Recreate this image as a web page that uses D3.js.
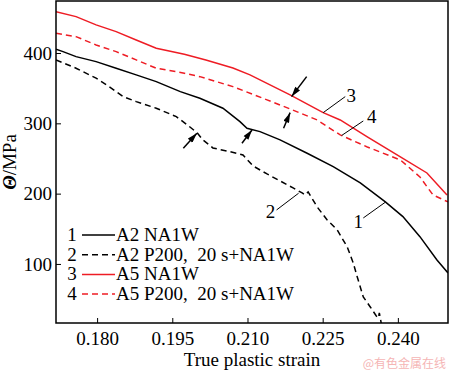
<!DOCTYPE html>
<html>
<head>
<meta charset="utf-8">
<script src="https://cdn.jsdelivr.net/npm/d3@7"></script>
<style>
  body { margin: 0; background: #fff; }
  svg { display: block; font-family: "Liberation Serif", "Times New Roman", serif; }
</style>
</head>
<body>
<svg id="chart" width="450" height="373"></svg>
<script>
// strain values / Theta (MPa)
var strainA2 = [0.1718, 0.1732, 0.1758, 0.1798, 0.1838, 0.1878, 0.1918, 0.1966, 0.2005, 0.2051, 0.2085, 0.2099, 0.2125, 0.2165, 0.2219, 0.2271, 0.2325, 0.2375, 0.2410, 0.2444, 0.2478, 0.2500];
var thetaA2 = [405.4, 402.0, 394.9, 387.8, 378.4, 368.9, 359.3, 345.1, 335.7, 321.5, 302.4, 293.0, 288.2, 276.4, 257.5, 238.4, 215.2, 188.2, 167.3, 138.8, 105.7, 87.2];

var strainA2P = [0.1718, 0.1758, 0.1798, 0.1824, 0.1852, 0.1878, 0.1918, 0.1958, 0.1980, 0.2000, 0.2011, 0.2031, 0.2065, 0.2091, 0.2111, 0.2139, 0.2165, 0.2191, 0.2209, 0.2215, 0.2221, 0.2239, 0.2259, 0.2279, 0.2299, 0.2311, 0.2319, 0.2331, 0.2345, 0.2357, 0.2361, 0.2363, 0.2365, 0.2367];
var thetaA2P = [390.2, 378.4, 364.2, 352.2, 338.0, 330.9, 321.5, 309.5, 297.7, 286.3, 276.4, 265.0, 259.7, 255.1, 239.4, 228.0, 218.1, 208.1, 201.0, 198.2, 202.4, 181.1, 162.6, 148.4, 124.2, 101.4, 81.5, 53.1, 38.8, 26.0, 23.2, 30.3, 23.2, 14.7];

var strainA5 = [0.1718, 0.1758, 0.1798, 0.1838, 0.1878, 0.1918, 0.1974, 0.2017, 0.2071, 0.2105, 0.2185, 0.2251, 0.2285, 0.2339, 0.2405, 0.2458, 0.2498];
var thetaA5 = [458.9, 451.8, 440.0, 430.4, 418.6, 406.8, 398.3, 390.2, 378.8, 368.9, 340.4, 315.2, 304.8, 280.7, 252.2, 229.4, 198.2];

var strainA5P = [0.1718, 0.1758, 0.1798, 0.1838, 0.1878, 0.1918, 0.1974, 0.2005, 0.2071, 0.2139, 0.2185, 0.2239, 0.2285, 0.2339, 0.2405, 0.2444, 0.2470, 0.2500];
var thetaA5P = [428.2, 423.3, 411.5, 402.0, 390.2, 378.4, 371.3, 366.4, 352.2, 333.4, 320.5, 304.8, 283.5, 266.4, 247.9, 223.8, 198.2, 188.2];

var seriesNums = ["1", "2", "3", "4"];
var seriesNames = ["A2 NA1W", "A2 P200,\u00a0 20 s+NA1W", "A5 NA1W", "A5 P200,\u00a0 20 s+NA1W"];
var seriesColors = ["#000", "#000", "#ee1c24", "#ee1c24"];
var seriesDash = [null, "6,4", null, "6,4"];

var xTicks = [0.180, 0.195, 0.210, 0.225, 0.240];
var yTicks = [100, 200, 300, 400];

// arrows: [tailX, tailY, headX, headY] in data units
var arrows = [
  [0.2218, 366.4, 0.2188, 338.0],
  [0.2172, 293.0, 0.2185, 315.2],
  [0.2089, 271.7, 0.2109, 290.6],
  [0.1972, 264.6, 0.1999, 285.9]
];
// curve labels: leader line [x0, y0, x1, y1] and text position
var leaders = [
  [0.2331, 165.4, 0.2375, 187.8],
  [0.2158, 176.8, 0.2202, 200.6],
  [0.2251, 315.2, 0.2295, 338.0],
  [0.2288, 282.8, 0.2331, 303.4]
];
var leaderTextX = [0.2321, 0.2146, 0.2307, 0.2348];
var leaderTextY = [151.2, 165.0, 330.9, 300.1];

function drawChart() {
    var svg = d3.select("#chart"),
        margin = {top: 1, right: 2, bottom: 50, left: 56},
        width = +svg.attr("width") - margin.left - margin.right,
        height = +svg.attr("height") - margin.top - margin.bottom;

    var x = d3.scaleLinear().domain([0.1718, 0.2500]).range([margin.left, margin.left + width]),
        y = d3.scaleLinear().domain([16, 474]).range([margin.top + height, margin.top]);

    svg.append("defs").append("clipPath").attr("id", "clip")
      .append("rect")
      .attr("x", margin.left).attr("y", margin.top)
      .attr("width", width).attr("height", height);

    svg.append("defs").append("marker")
      .attr("id", "head")
      .attr("viewBox", "0 0 10 6")
      .attr("refX", 10).attr("refY", 3)
      .attr("markerWidth", 11).attr("markerHeight", 6)
      .attr("markerUnits", "userSpaceOnUse")
      .attr("orient", "auto")
      .append("path")
      .attr("d", "M0,0L10,3L0,6Z")
      .attr("fill", "#000");

    var line = d3.line()
        .x(function(d) { return x(d[0]); })
        .y(function(d) { return y(d[1]); });

    var data = [
        d3.zip(strainA2, thetaA2),
        d3.zip(strainA2P, thetaA2P),
        d3.zip(strainA5, thetaA5),
        d3.zip(strainA5P, thetaA5P)
    ];

    svg.append("g").attr("clip-path", "url(#clip)")
      .selectAll("path")
      .data(data)
      .enter().append("path")
      .attr("d", line)
      .attr("fill", "none")
      .attr("stroke", function(d, i) { return seriesColors[i]; })
      .attr("stroke-width", 1.5)
      .attr("stroke-dasharray", function(d, i) { return seriesDash[i]; });

    // axes, ticks pointing inward
    var xAxis = svg.append("g")
      .attr("transform", "translate(0," + (margin.top + height) + ")")
      .call(d3.axisBottom(x).tickValues(xTicks).tickFormat(d3.format(".3f")).tickSizeInner(-5).tickSizeOuter(0).tickPadding(9));
    var yAxis = svg.append("g")
      .attr("transform", "translate(" + margin.left + ",0)")
      .call(d3.axisLeft(y).tickValues(yTicks).tickSizeInner(-5).tickSizeOuter(0).tickPadding(4));

    [xAxis, yAxis].forEach(function(a) {
        a.select(".domain").remove();
        a.selectAll("line").attr("stroke", "#000").attr("stroke-width", 1);
        a.selectAll("text")
          .attr("font-family", "Liberation Serif")
          .attr("font-size", 19)
          .attr("fill", "#000");
    });

    svg.append("rect")
      .attr("x", margin.left).attr("y", margin.top)
      .attr("width", width).attr("height", height)
      .attr("fill", "none")
      .attr("stroke", "#000")
      .attr("stroke-width", 1.5);

    // annotation arrows
    svg.append("g").selectAll("line")
      .data(arrows)
      .enter().append("line")
      .attr("x1", function(d) { return x(d[0]); })
      .attr("y1", function(d) { return y(d[1]); })
      .attr("x2", function(d) { return x(d[2]); })
      .attr("y2", function(d) { return y(d[3]); })
      .attr("stroke", "#000")
      .attr("stroke-width", 1.5)
      .attr("marker-end", "url(#head)");

    // curve number leaders
    svg.append("g").selectAll("line")
      .data(leaders)
      .enter().append("line")
      .attr("x1", function(d) { return x(d[0]); })
      .attr("y1", function(d) { return y(d[1]); })
      .attr("x2", function(d) { return x(d[2]); })
      .attr("y2", function(d) { return y(d[3]); })
      .attr("stroke", "#000")
      .attr("stroke-width", 1);

    svg.append("g").selectAll("text")
      .data(seriesNums)
      .enter().append("text")
      .attr("x", function(d, i) { return x(leaderTextX[i]); })
      .attr("y", function(d, i) { return y(leaderTextY[i]); })
      .attr("text-anchor", "middle")
      .attr("font-size", 19)
      .text(function(d) { return d; });

    // legend
    var leg = svg.append("g").selectAll("g")
      .data(seriesNames)
      .enter().append("g")
      .attr("transform", function(d, i) { return "translate(0," + (241 + i * 19.7) + ")"; });

    leg.append("text")
      .attr("x", 72).attr("y", 0)
      .attr("text-anchor", "middle")
      .attr("font-size", 19)
      .text(function(d, i) { return seriesNums[i]; });
    leg.append("line")
      .attr("x1", 82).attr("x2", 115)
      .attr("y1", -6).attr("y2", -6)
      .attr("stroke", function(d, i) { return seriesColors[i]; })
      .attr("stroke-width", 1.5)
      .attr("stroke-dasharray", function(d, i) { return seriesDash[i]; });
    leg.append("text")
      .attr("x", 116).attr("y", 0)
      .attr("font-size", 19)
      .text(function(d) { return d; });

    // axis titles
    svg.append("text")
      .attr("x", 252).attr("y", 366)
      .attr("text-anchor", "middle")
      .attr("font-size", 19)
      .text("True plastic strain");

    var yt = svg.append("text")
      .attr("transform", "translate(16,162) rotate(-90)")
      .attr("text-anchor", "middle")
      .attr("font-size", 19);
    yt.append("tspan").attr("font-style", "italic").attr("font-weight", "bold").text("\u0398");
    yt.append("tspan").text("/MPa");

    svg.append("text")
      .attr("x", 446).attr("y", 368)
      .attr("text-anchor", "end")
      .attr("font-family", "Noto Sans CJK SC")
      .attr("font-size", 12)
      .attr("fill", "#f5b5b5")
      .text("@有色金属在线");
}

drawChart();
</script>
</body>
</html>
